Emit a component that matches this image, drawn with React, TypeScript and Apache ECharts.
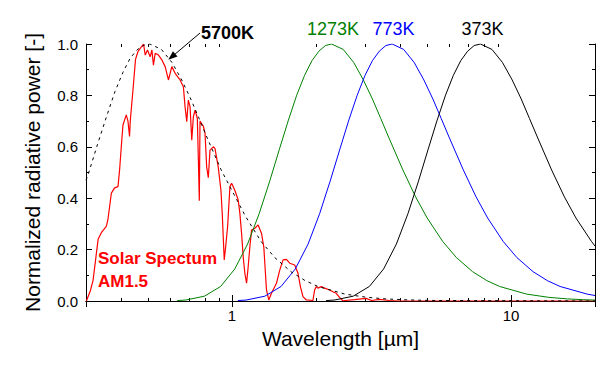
import React, { useEffect, useRef } from "react";
import * as echarts from "echarts";

// ---- Data ----
const solarWl = [0.301, 0.311, 0.318, 0.3315, 0.3404, 0.3548, 0.3598, 0.3698, 0.3799, 0.3906,
  0.3958, 0.4014, 0.407, 0.4182, 0.4241, 0.4297, 0.4322, 0.4419, 0.4514, 0.4604,
  0.4692, 0.4823, 0.4891, 0.4983, 0.5094, 0.5166, 0.5234, 0.5309, 0.5455, 0.561,
  0.5764, 0.5923, 0.6091, 0.6259, 0.6519, 0.6699, 0.6793, 0.6889, 0.698, 0.7079,
  0.718, 0.7275, 0.7377, 0.7517, 0.7578, 0.7641, 0.7686, 0.79, 0.801, 0.8122,
  0.823, 0.8345, 0.8574, 0.8695, 0.8935, 0.9135, 0.9233, 0.9386, 0.9495, 0.9652,
  0.9836, 0.9975, 1.0249, 1.0532, 1.068, 1.083, 1.0975, 1.1127, 1.1284, 1.1435,
  1.1594, 1.1759, 1.2081, 1.2413, 1.2767, 1.301, 1.3118, 1.33, 1.3554, 1.3859,
  1.4441, 1.4839, 1.5248, 1.5682, 1.6111, 1.6788, 1.7251, 1.7595, 1.7973, 1.8484,
  1.9513, 1.9785, 2.0066, 2.0331, 2.091, 2.1482, 2.2387, 2.2999, 2.3651, 2.43,
  2.497, 2.75, 3.027, 3.162, 3.379, 3.667, 3.981, 20];
const solarVal = [0, 0.04, 0.08, 0.24, 0.266, 0.29, 0.32, 0.42, 0.44, 0.445,
  0.51, 0.6, 0.685, 0.724, 0.7, 0.64, 0.7, 0.82, 0.94, 0.97,
  0.983, 1.0, 0.957, 0.977, 0.95, 0.977, 0.918, 0.964, 0.957, 0.938,
  0.912, 0.86, 0.912, 0.886, 0.86, 0.834, 0.756, 0.698, 0.782, 0.756,
  0.626, 0.717, 0.743, 0.711, 0.56, 0.39, 0.7, 0.68, 0.652, 0.52,
  0.48, 0.587, 0.6, 0.594, 0.52, 0.43, 0.34, 0.16, 0.21, 0.29,
  0.445, 0.458, 0.43, 0.393, 0.34, 0.263, 0.172, 0.108, 0.069, 0.133,
  0.21, 0.276, 0.283, 0.296, 0.263, 0.21, 0.147, 0.043, 0.004, 0.03,
  0.069, 0.12, 0.16, 0.162, 0.147, 0.14, 0.108, 0.056, 0.017, 0.004,
  0.002, 0.043, 0.056, 0.05, 0.056, 0.05, 0.043, 0.036, 0.03, 0.014,
  0.001, 0.005, 0.01, 0.002, 0.006, 0.002, 0, 0];

const bb5700Wl = [0.3, 0.305, 0.33, 0.356, 0.381, 0.407, 0.432, 0.458, 0.483, 0.508,
  0.559, 0.61, 0.661, 0.712, 0.763, 0.813, 0.915, 1.017, 1.118, 1.271,
  1.424, 1.627, 1.83, 2.034, 2.542, 3.05, 3.559, 4.067, 5.084, 20];
const bb5700Val = [0.47, 0.49, 0.61, 0.72, 0.815, 0.89, 0.945, 0.978, 0.995, 1,
  0.979, 0.928, 0.86, 0.786, 0.71, 0.638, 0.51, 0.415, 0.33, 0.232,
  0.169, 0.114, 0.0792, 0.0565, 0.0268, 0.0142, 0.0082, 0.005, 0.0022, 0];

const bb1273Wl = [0.637, 0.683, 0.797, 0.911, 1.024, 1.138, 1.252, 1.366, 1.48, 1.594,
  1.707, 1.821, 1.935, 2.049, 2.163, 2.277, 2.504, 2.732, 2.959, 3.187,
  3.415, 3.642, 4.098, 4.553, 5.008, 5.691, 6.374, 7.285, 8.195, 9.106,
  11.38, 13.66, 15.94, 18.21, 20];
const bb1273Val = [0.0017, 0.0038, 0.0187, 0.0565, 0.1246, 0.2217, 0.3397, 0.4664, 0.591, 0.704,
  0.801, 0.878, 0.935, 0.972, 0.994, 1, 0.979, 0.928, 0.86, 0.786,
  0.71, 0.638, 0.51, 0.405, 0.323, 0.232, 0.169, 0.114, 0.0792, 0.0565,
  0.0268, 0.0142, 0.0082, 0.005, 0.0036];

const bb773Wl = [1.05, 1.125, 1.312, 1.5, 1.687, 1.875, 2.062, 2.249, 2.437, 2.624,
  2.812, 2.999, 3.187, 3.374, 3.562, 3.749, 4.124, 4.499, 4.874, 5.249,
  5.624, 5.998, 6.748, 7.498, 8.248, 9.373, 10.5, 12.0, 13.5, 15.0,
  18.75, 20];
const bb773Val = [0.0017, 0.0038, 0.0187, 0.0565, 0.1246, 0.2217, 0.3397, 0.4664, 0.591, 0.704,
  0.801, 0.878, 0.935, 0.972, 0.994, 1, 0.979, 0.928, 0.86, 0.786,
  0.71, 0.638, 0.51, 0.405, 0.323, 0.232, 0.169, 0.114, 0.0792, 0.0565,
  0.0268, 0.0214];

const bb373Wl = [2.175, 2.331, 2.719, 3.108, 3.496, 3.885, 4.273, 4.661, 5.05, 5.438,
  5.827, 6.215, 6.604, 6.992, 7.381, 7.769, 8.546, 9.323, 10.1, 10.88,
  11.65, 12.43, 13.98, 15.54, 17.09, 19.42, 20];
const bb373Val = [0.0017, 0.0038, 0.0187, 0.0565, 0.1246, 0.2217, 0.3397, 0.4664, 0.591, 0.704,
  0.801, 0.878, 0.935, 0.972, 0.994, 1, 0.979, 0.928, 0.86, 0.786,
  0.71, 0.638, 0.51, 0.405, 0.323, 0.232, 0.214];

const xMajorLabels = [1, 10];
const xMinorTicks = [0.4, 0.5, 0.6, 0.7, 0.8, 0.9, 2, 3, 4, 5, 6, 7, 8, 9];

const zip = (a: number[], b: number[]) => a.map((v, i) => [v, b[i]]);

const FONT = "Liberation Sans";

export default function App() {
  const ref = useRef<HTMLDivElement>(null);
  useEffect(() => {
    if (!ref.current) return;
    const chart = echarts.init(ref.current, undefined, { renderer: "svg" });
    const lineBase = { type: "line", showSymbol: false, symbol: "none", silent: true, clip: true } as any;
    const option: any = {
      animation: false,
      backgroundColor: "#fff",
      grid: { left: 86, right: 21, top: 44, bottom: 65, containLabel: false },
      xAxis: [
        {
          type: "log",
          min: 0.3,
          max: 20,
          position: "bottom",
          name: "Wavelength [µm]",
          nameLocation: "middle",
          nameGap: 25,
          nameTextStyle: { fontFamily: FONT, fontSize: 21, color: "#000" },
          axisLine: { show: true, lineStyle: { color: "#000", width: 1 } },
          axisTick: { show: true, inside: true, length: 6, lineStyle: { color: "#000" } },
          axisLabel: {
            fontFamily: FONT,
            fontSize: 15,
            color: "#000",
            margin: 7,
            formatter: (v: number) => {
              const m = xMajorLabels.find((t) => Math.abs(v - t) < 1e-6 * t);
              return m !== undefined ? String(m) : "";
            },
          },
          splitLine: { show: false },
        },
        {
          type: "log",
          min: 0.3,
          max: 20,
          position: "top",
          axisLine: { show: true, lineStyle: { color: "#000", width: 1 } },
          axisTick: { show: true, inside: true, length: 6, lineStyle: { color: "#000" } },
          axisLabel: { show: false },
          splitLine: { show: false },
        },
      ],
      yAxis: [
        {
          type: "value",
          min: 0,
          max: 1,
          interval: 0.2,
          position: "left",
          name: "Normalized radiative power [-]",
          nameLocation: "middle",
          nameGap: 43,
          nameTextStyle: { fontFamily: FONT, fontSize: 21, color: "#000" },
          axisLine: { show: true, lineStyle: { color: "#000", width: 1 } },
          axisTick: { show: true, inside: true, length: 6, lineStyle: { color: "#000" } },
          minorTick: { show: true, splitNumber: 2, length: 3, lineStyle: { color: "#000" } },
          axisLabel: {
            fontFamily: FONT,
            fontSize: 15,
            color: "#000",
            margin: 8,
            formatter: (v: number) => v.toFixed(1),
          },
          splitLine: { show: false },
        },
        {
          type: "value",
          min: 0,
          max: 1,
          interval: 0.2,
          position: "right",
          axisLine: { show: true, lineStyle: { color: "#000", width: 1 } },
          axisTick: { show: true, inside: true, length: 6, lineStyle: { color: "#000" } },
          minorTick: { show: true, splitNumber: 2, length: 3, lineStyle: { color: "#000" } },
          axisLabel: { show: false },
          splitLine: { show: false },
        },
      ],
      series: [
        {
          type: "custom",
          silent: true,
          clip: false,
          data: xMinorTicks.map((v) => [v, 0]),
          renderItem: (params: any, api: any) => {
            const v = api.value(0);
            const b = api.coord([v, 0]);
            const t = api.coord([v, 1]);
            const x = Math.round(b[0]) + 0.5;
            return {
              type: "group",
              children: [
                { type: "line", shape: { x1: x, y1: b[1], x2: x, y2: b[1] - 3 }, style: { stroke: "#000", lineWidth: 1 } },
                { type: "line", shape: { x1: x, y1: t[1], x2: x, y2: t[1] + 3 }, style: { stroke: "#000", lineWidth: 1 } },
              ],
            };
          },
        },
        { ...lineBase, name: "Solar AM1.5", data: zip(solarWl, solarVal), lineStyle: { color: "#ff0000", width: 1.2 } },
        { ...lineBase, name: "1273K", data: zip(bb1273Wl, bb1273Val), lineStyle: { color: "#008000", width: 1 } },
        { ...lineBase, name: "773K", data: zip(bb773Wl, bb773Val), lineStyle: { color: "#0000ff", width: 1 } },
        { ...lineBase, name: "373K", data: zip(bb373Wl, bb373Val), lineStyle: { color: "#000000", width: 1 } },
        { ...lineBase, name: "5700K", data: zip(bb5700Wl, bb5700Val), lineStyle: { color: "#000000", width: 1, type: [3, 4] } },
      ],
      graphic: [
        { type: "text", x: 201, y: 32.5, style: { text: "5700K", fill: "#000", font: `bold 18px "${FONT}"`, textAlign: "left", textVerticalAlign: "middle" } },
        { type: "line", shape: { x1: 200, y1: 33, x2: 174, y2: 55 }, style: { stroke: "#000", lineWidth: 1 } },
        { type: "polygon", shape: { points: [[168.3, 59.7], [177.5, 56.6], [172.9, 51.2]] }, style: { fill: "#000" } },
        { type: "text", x: 307, y: 29, style: { text: "1273K", fill: "#008000", font: `18px "${FONT}"`, textAlign: "left", textVerticalAlign: "middle" } },
        { type: "text", x: 372.5, y: 29, style: { text: "773K", fill: "#0000ff", font: `18px "${FONT}"`, textAlign: "left", textVerticalAlign: "middle" } },
        { type: "text", x: 461.5, y: 29, style: { text: "373K", fill: "#000", font: `18px "${FONT}"`, textAlign: "left", textVerticalAlign: "middle" } },
        { type: "text", x: 98, y: 258.8, style: { text: "Solar Spectum", fill: "#ff0000", font: `bold 17px "${FONT}"`, textAlign: "left", textVerticalAlign: "middle" } },
        { type: "text", x: 98, y: 281.5, style: { text: "AM1.5", fill: "#ff0000", font: `bold 17px "${FONT}"`, textAlign: "left", textVerticalAlign: "middle" } },
      ],
    };
    chart.setOption(option);
    return () => chart.dispose();
  }, []);
  return (
    <div
      ref={ref}
      style={{ position: "fixed", left: 0, top: 0, width: 616, height: 366, background: "#fff" }}
    />
  );
}
